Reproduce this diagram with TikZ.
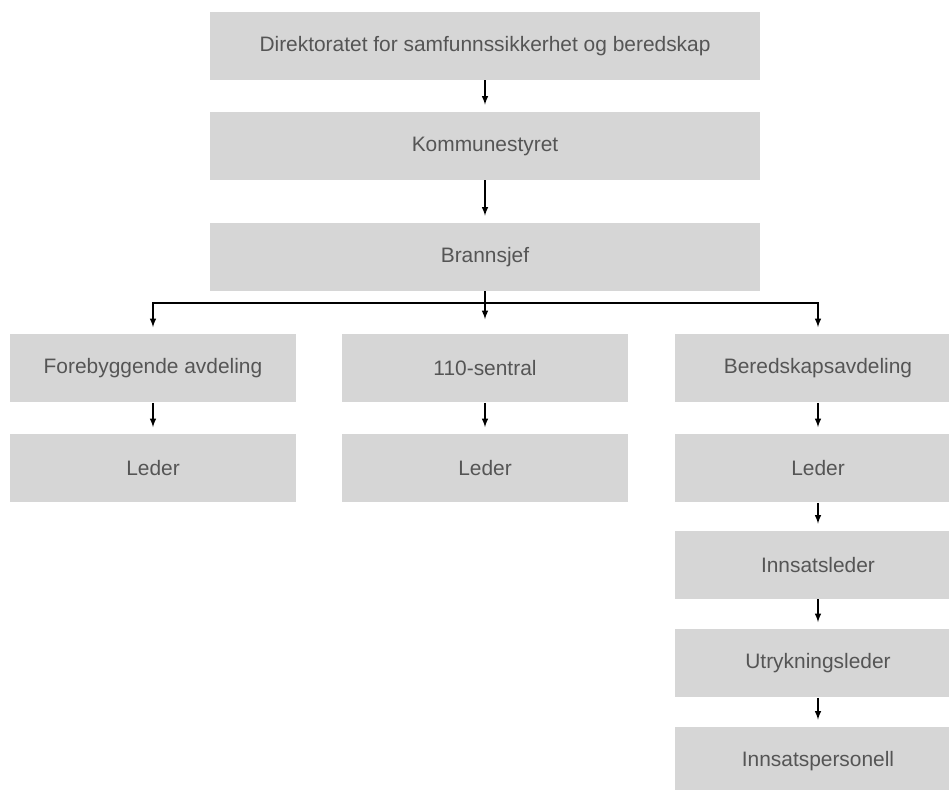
\documentclass[tikz,border=0pt]{standalone}
\usepackage{fontspec}
\setmainfont{Liberation Sans}
\usetikzlibrary{shapes, arrows}

\definecolor{boxgray}{RGB}{214,214,214}
\definecolor{textgray}{RGB}{85,85,85}

\begin{document}
\begin{tikzpicture}[auto]
      \tikzstyle{wide} = [
        rectangle,
        fill=boxgray,
        text=textgray,
        font=\fontsize{11.9}{14}\selectfont,
        minimum width = 11cm,
        minimum height = 1.36cm,
        inner sep = 0pt
      ]

      \tikzstyle{unit} = [
        rectangle,
        fill=boxgray,
        text=textgray,
        font=\fontsize{11.9}{14}\selectfont,
        minimum width = 5.72cm,
        minimum height = 1.36cm,
        inner sep = 0pt
      ]

      \tikzstyle{arrow} = [
        -latex,
        line width = 0.7pt,
        shorten >= 4pt
      ]

      \clip (0,0) rectangle (18.98,-15.8);
      \useasboundingbox (0,0) rectangle (18.98,-15.8);

      \node[wide] (dsb) at (9.7,-0.92) {Direktoratet for samfunnssikkerhet og beredskap};
      \node[wide] (kommunestyret) at (9.7,-2.92) {Kommunestyret};
      \node[wide] (brannsjef) at (9.7,-5.14) {Brannsjef};

      \node[unit] (forebyggende) at (3.06,-7.37) {Forebyggende avdeling};
      \node[unit] (sentral) at (9.7,-7.37) {110-sentral};
      \node[unit] (beredskap) at (16.36,-7.37) {Beredskapsavdeling};

      \node[unit] (leder1) at (3.06,-9.37) {Leder};
      \node[unit] (leder2) at (9.7,-9.37) {Leder};
      \node[unit] (leder3) at (16.36,-9.37) {Leder};
      \node[unit] (innsatsleder) at (16.36,-11.3) {Innsatsleder};
      \node[unit] (utrykningsleder) at (16.36,-13.27) {Utrykningsleder};
      \node[unit] (personell) at (16.36,-15.22) {Innsatspersonell};

      \coordinate (split) at (9.7,-6.06);

      \draw[arrow] (dsb) -- (kommunestyret);
      \draw[arrow] (kommunestyret) -- (brannsjef);
      \draw[line width = 0.7pt] (brannsjef) -- (split);
      \draw[arrow] (split) -| (forebyggende);
      \draw[arrow] (split) -| (beredskap);
      \draw[arrow, shorten >= 8.5pt] (brannsjef) -- (sentral);
      \draw[arrow] (forebyggende) -- (leder1);
      \draw[arrow] (sentral) -- (leder2);
      \draw[arrow] (beredskap) -- (leder3);
      \draw[arrow] (leder3) -- (innsatsleder);
      \draw[arrow] (innsatsleder) -- (utrykningsleder);
      \draw[arrow] (utrykningsleder) -- (personell);
    \end{tikzpicture}
\end{document}
